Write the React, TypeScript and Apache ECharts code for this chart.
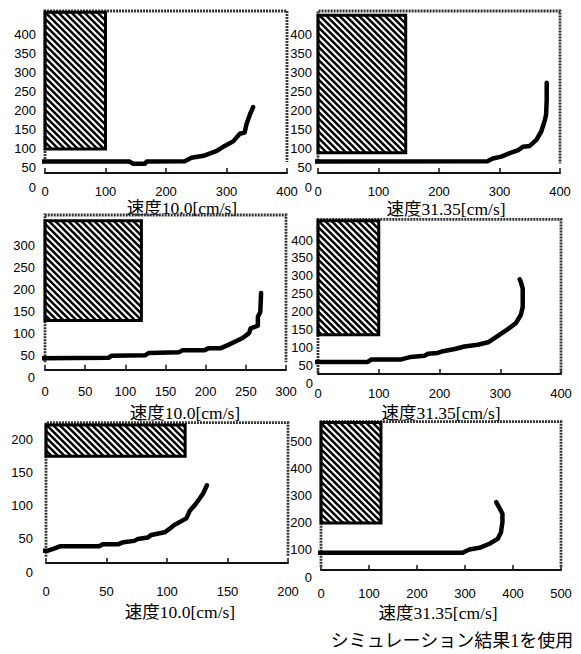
import React, { useEffect, useRef } from "react";
import * as echarts from "echarts";

// ---- texts ----
const titleSlow = "速度10.0[cm/s]";
const titleFast = "速度31.35[cm/s]";
const caption = "シミュレーション結果1を使用";
const panelTitles = [titleSlow, titleFast, titleSlow, titleFast, titleSlow, titleFast];

// ---- curves [x, y] ----
const curve1 = [[-22, 67], [140, 67], [146, 61], [165, 61], [168, 67], [231, 68], [242, 77], [262, 82], [284, 95], [297, 108], [311, 120], [322, 140], [330, 143], [333, 165], [339, 192], [344, 210]];
const curve2 = [[-25, 67], [280, 68], [289, 75], [303, 80], [317, 89], [331, 97], [339, 106], [350, 108], [361, 124], [369, 146], [375, 176], [377, 190], [378, 229], [378, 274]];
const curve3 = [[-12, 44], [79, 45], [83, 50], [125, 51], [129, 56], [167, 58], [171, 62], [198, 62], [204, 67], [219, 67], [229, 75], [237, 82], [246, 90], [254, 101], [256, 112], [265, 118], [265, 138], [268, 149], [269, 192]];
const curve4 = [[-19, 59], [82, 59], [88, 66], [137, 66], [153, 73], [175, 76], [181, 82], [197, 84], [206, 89], [225, 95], [241, 102], [263, 107], [280, 114], [296, 132], [312, 150], [326, 168], [334, 191], [337, 213], [337, 264], [334, 282], [332, 290]];
const curve5 = [[-11, 32], [1, 32], [6, 35], [12, 39], [44, 39], [47, 42], [60, 42], [64, 45], [73, 47], [76, 50], [84, 52], [87, 56], [98, 60], [102, 65], [106, 71], [116, 81], [119, 93], [123, 101], [127, 111], [130, 119], [133, 131]];
const curve6 = [[-31, 90], [295, 90], [309, 102], [330, 108], [351, 123], [368, 141], [375, 166], [378, 203], [378, 234], [371, 258], [365, 277]];
const curves = [curve1, curve2, curve3, curve4, curve5, curve6];

// ---- hatched blocks [xFrom, xTo, yFrom, yTo] ----
const block1 = [0, 100, 100, 460];
const block2 = [0, 145, 90, 452];
const block3 = [0, 120, 130, 356];
const block4 = [0, 100, 135, 454];
const block5 = [0, 115, 175, 222];
const block6 = [0, 125, 200, 572];
const blocks = [block1, block2, block3, block4, block5, block6];

// ---- axes ----
const xMaxes = [400, 400, 300, 400, 200, 500];
const xIntervals = [100, 100, 50, 100, 50, 100];
const yLabelMaxes = [400, 400, 300, 400, 200, 500];
const yIntervals = [50, 50, 50, 50, 50, 100];
const yFrameTops = [463, 463, 369, 458, 225.5, 575];
const yFrameBottoms = [66, 62, 35, 28, 23, 38];

// ---- layout (pixels) ----
const layout = [
  { left: 45, top: 11, width: 242, height: 176, xOffset: -14, xMargin: 12, yMargin: 9, tx: 182, ty: 208 },
  { left: 318, top: 11, width: 242, height: 176, xOffset: -14, xMargin: 12, yMargin: 6, tx: 446, ty: 209 },
  { left: 45, top: 215, width: 241, height: 162.7, xOffset: -8, xMargin: 15, yMargin: 10, tx: 185, ty: 413 },
  { left: 318, top: 219.3, width: 243, height: 163.7, xOffset: -9, xMargin: 13, yMargin: 5, tx: 441, ty: 413 },
  { left: 46, top: 422.7, width: 242, height: 149.3, xOffset: -9, xMargin: 22, yMargin: 13, tx: 180, ty: 612 },
  { left: 321, top: 421.7, width: 240, height: 155.3, xOffset: -7, xMargin: 17, yMargin: 9, tx: 438, ty: 613 },
];

const labelFont = { fontFamily: "Liberation Sans", fontSize: 13, color: "#000" };
const titleFont = '17.5px "Liberation Serif", "Noto Sans CJK JP", serif';

function renderHatch(params: any, api: any) {
  const tl = api.coord([api.value(0), api.value(3)]);
  const br = api.coord([api.value(1), api.value(2)]);
  const L = tl[0], T = tl[1], R = br[0], B = br[1];
  const children: any[] = [];
  const step = 6.5;
  for (let c = T - R + 2; c <= B - L; c += step) {
    const xa = Math.max(L, T - c);
    const xb = Math.min(R, B - c);
    if (xb > xa) {
      children.push({
        type: "line",
        shape: { x1: xa, y1: xa + c, x2: xb, y2: xb + c },
        style: { stroke: "#000", lineWidth: 2.5 },
      });
    }
  }
  children.push({
    type: "rect",
    shape: { x: L, y: T, width: R - L, height: B - T },
    style: { fill: "none", stroke: "#000", lineWidth: 3 },
  });
  return { type: "group", children };
}

// frame: top, left and right dotted borders
function makeFrame(xm: number, ym: number, fb: number) {
  return function renderFrame(params: any, api: any) {
    const a = api.coord([0, fb]);
    const b = api.coord([0, ym]);
    const c = api.coord([xm, ym]);
    const d = api.coord([xm, fb]);
    return {
      type: "polyline",
      shape: { points: [a, b, c, d] },
      style: { fill: "none", stroke: "#333", lineWidth: 2.8, lineDash: [2, 1] },
    };
  };
}

export default function App() {
  const ref = useRef<HTMLDivElement>(null);
  useEffect(() => {
    if (!ref.current) return;
    const chart = echarts.init(ref.current, null, { renderer: "svg" });
    const grid: any[] = [];
    const xAxis: any[] = [];
    const yAxis: any[] = [];
    const series: any[] = [];
    const graphic: any[] = [];
    layout.forEach((p, i) => {
      grid.push({ left: p.left, top: p.top, width: p.width, height: p.height });
      xAxis.push({
        type: "value",
        gridIndex: i,
        min: 0,
        max: xMaxes[i],
        interval: xIntervals[i],
        offset: p.xOffset,
        axisLine: { show: true, onZero: false, lineStyle: { color: "#111", width: 2 } },
        axisTick: { show: true, inside: true, length: 5, lineStyle: { color: "#111", width: 1.5 } },
        axisLabel: { ...labelFont, margin: p.xMargin },
        splitLine: { show: false },
      });
      const lm = yLabelMaxes[i];
      const yi = yIntervals[i];
      yAxis.push({
        type: "value",
        gridIndex: i,
        min: 0,
        max: yFrameTops[i],
        interval: yi,
        axisLine: { show: false },
        axisTick: { show: false },
        splitLine: { show: false },
        axisLabel: {
          ...labelFont,
          margin: p.yMargin,
          formatter: (v: number) => (v <= lm && v % yi === 0 ? String(v) : ""),
        },
      });
      series.push({
        type: "custom",
        xAxisIndex: i,
        yAxisIndex: i,
        renderItem: makeFrame(xMaxes[i], yFrameTops[i], yFrameBottoms[i]),
        data: [[xMaxes[i], yFrameTops[i]]],
        silent: true,
        clip: false,
        z: 1,
      });
      series.push({
        type: "custom",
        xAxisIndex: i,
        yAxisIndex: i,
        renderItem: renderHatch,
        encode: { x: [0, 1], y: [2, 3] },
        data: [blocks[i]],
        silent: true,
        z: 2,
      });
      series.push({
        type: "line",
        xAxisIndex: i,
        yAxisIndex: i,
        data: curves[i],
        showSymbol: false,
        symbol: "none",
        clip: false,
        lineStyle: { color: "#000", width: 4.5, cap: "round", join: "round" },
        z: 3,
      });
      graphic.push({
        type: "text",
        x: p.tx,
        y: p.ty,
        style: { text: panelTitles[i], font: titleFont, fill: "#000", align: "center", verticalAlign: "middle" },
      });
    });
    graphic.push({
      type: "text",
      x: 452,
      y: 641,
      style: { text: caption, font: '18px "Liberation Serif", "Noto Sans CJK JP", serif', fill: "#000", align: "center", verticalAlign: "middle" },
    });
    chart.setOption({
      animation: false,
      grid,
      xAxis,
      yAxis,
      series,
      graphic,
    });
    return () => chart.dispose();
  }, []);
  return (
    <div
      ref={ref}
      style={{ position: "absolute", left: 0, top: 0, width: 581, height: 654, background: "#fff" }}
    />
  );
}
